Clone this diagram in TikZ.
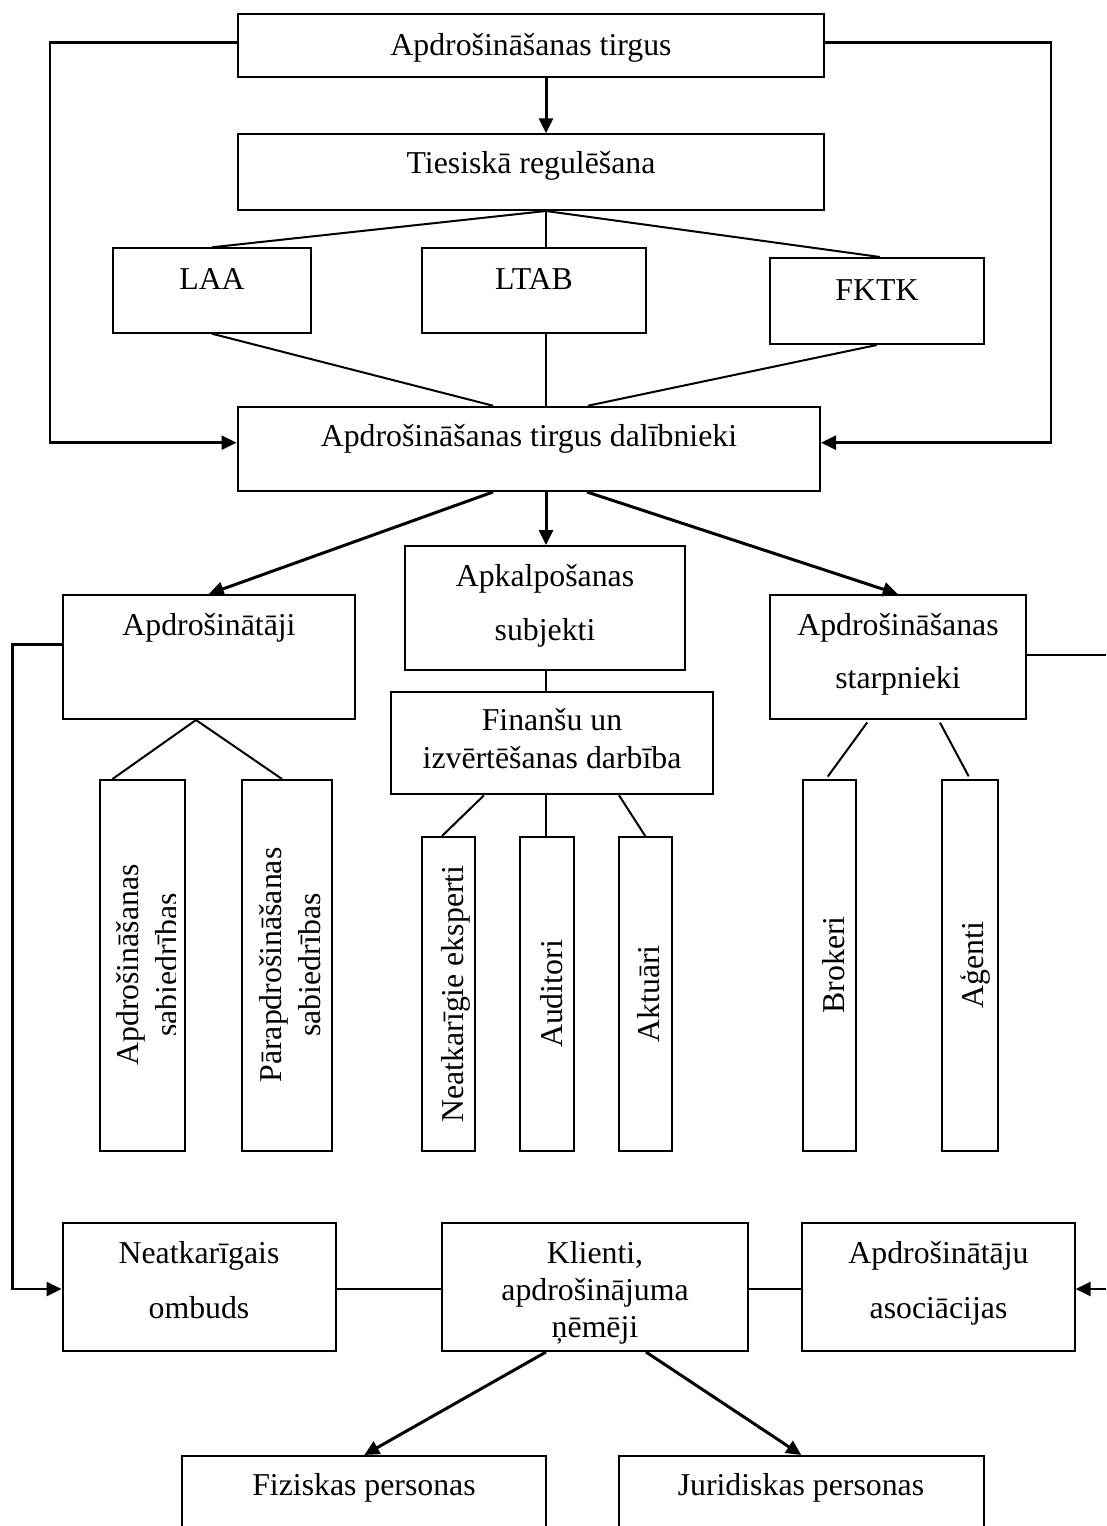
\documentclass[tikz,border=0pt]{standalone}
\usepackage{fontspec}
\setmainfont{Liberation Serif}
\usetikzlibrary{arrows.meta}
\tikzset{
  box/.style={draw, line width=2pt, rectangle, inner sep=0pt},
  txt/.style={font=\fontsize{31.8}{38}\selectfont, inner sep=0pt, anchor=base},
  conn/.style={line width=2pt},
  arr/.style={line width=3pt, -{Triangle[length=15pt,width=14pt]}},
  looparr/.style={line width=2.5pt, -{Triangle[length=15pt,width=14pt]}},
}
\newcommand\mkbox[5]{%
  \pgfmathsetmacro\bxw{#4-#2}%
  \pgfmathsetmacro\bxh{#5-#3}%
  \pgfmathsetmacro\bxx{(#2+#4)/2}%
  \pgfmathsetmacro\bxy{(#3+#5)/2}%
  \node[box, minimum width=\bxw pt, minimum height=\bxh pt] (#1) at (\bxx,\bxy) {};}
\begin{document}
\begin{tikzpicture}[x=1pt,y=-1pt]
\useasboundingbox (0,0) rectangle (1106,1526);
\fill[white] (0,0) rectangle (1106,1526);
\clip (0,0) rectangle (1106,1526);

% guide coordinates
\coordinate (g546) at (546,0);
\coordinate (g493) at (493,0);
\coordinate (g588) at (588,0);
\coordinate (g587) at (587,0);
\coordinate (g196) at (196,0);
\coordinate (g112) at (112.5,0);
\coordinate (g282) at (282,0);
\coordinate (g484) at (484,0);
\coordinate (g442) at (442,0);
\coordinate (g619) at (619,0);
\coordinate (g869) at (869,0);
\coordinate (g826) at (826,0);
\coordinate (g939) at (938.6,0);
\coordinate (g646) at (646,0);
\coordinate (g880) at (880,0);

% boxes
\mkbox{top}{237.5}{14}{824}{77}
\mkbox{tie}{237.5}{134.3}{824}{210}
\mkbox{laa}{112.5}{248.3}{311.4}{332.7}
\mkbox{ltab}{422}{248.3}{646}{332.7}
\mkbox{fktk}{770}{258}{983.5}{344}
\mkbox{dal}{237.5}{406.7}{820}{491}
\mkbox{apd}{62.5}{595}{355}{719}
\mkbox{apk}{405}{546}{684.6}{670}
\mkbox{fin}{391}{691.7}{713}{794.3}
\mkbox{sta}{770}{595}{1025.6}{719}
\mkbox{sab}{99.5}{780}{184.5}{1151}
\mkbox{par}{241.5}{780}{332}{1151}
\mkbox{nek}{422}{837}{475}{1151}
\mkbox{aud}{520}{837}{574}{1151}
\mkbox{akt}{618.5}{837}{672}{1151}
\mkbox{bro}{803}{780}{856}{1151}
\mkbox{age}{942.4}{780}{997.8}{1151}
\mkbox{omb}{62.5}{1223}{335.5}{1351}
\mkbox{kli}{441.8}{1223}{748}{1351}
\mkbox{aso}{802.4}{1223}{1074.6}{1351}
\mkbox{fiz}{182}{1456}{546.4}{1545}
\mkbox{jur}{619}{1456}{983.5}{1545}

% texts
\node[txt] (t-top) at (531,55) {Apdrošināšanas tirgus};
\node[txt] (t-tie) at (531,173) {Tiesiskā regulēšana};
\node[txt] (t-laa) at (212,289) {LAA};
\node[txt] (t-ltab) at (534,289) {LTAB};
\node[txt] (t-fktk) at (877,300) {FKTK};
\node[txt] (t-dal) at (529,446.7) {Apdrošināšanas tirgus dalībnieki};
\node[txt] (t-apd) at (209,635) {Apdrošinātāji};
\node[txt] (t-apk1) at (545,586) {Apkalpošanas};
\node[txt] (t-apk2) at (545,640) {subjekti};
\node[txt] (t-fin1) at (552,730) {Finanšu un};
\node[txt] (t-fin2) at (552,768) {izvērtēšanas darbība};
\node[txt] (t-sta1) at (898,635) {Apdrošināšanas};
\node[txt] (t-sta2) at (898,688) {starpnieki};
\begin{scope}
  \clip (sab.north west) rectangle ([xshift=-10pt]sab.south east);
  \node[txt, rotate=90] (t-sab1) at (138.3,965) {Apdrošināšanas};
  \node[txt, rotate=90] (t-sab2) at (177.3,965) {sabiedrības};
\end{scope}
\node[txt, rotate=90] (t-par1) at (281.7,965) {Pārapdrošināšanas};
\node[txt, rotate=90] (t-par2) at (320.7,965) {sabiedrības};
\node[txt, rotate=90] (t-nek) at (463,994) {Neatkarīgie eksperti};
\node[txt, rotate=90] (t-aud) at (562,994) {Auditori};
\node[txt, rotate=90] (t-akt) at (659.6,994) {Aktuāri};
\node[txt, rotate=90] (t-bro) at (844,965) {Brokeri};
\node[txt, rotate=90] (t-age) at (983.5,965) {Aģenti};
\node[txt] (t-omb1) at (199,1263) {Neatkarīgais};
\node[txt] (t-omb2) at (199,1318) {ombuds};
\node[txt] (t-kli1) at (595,1263) {Klienti,};
\node[txt] (t-kli2) at (595,1300) {apdrošinājuma};
\node[txt] (t-kli3) at (595,1337) {ņēmēji};
\node[txt] (t-aso1) at (938.5,1263) {Apdrošinātāju};
\node[txt] (t-aso2) at (938.5,1318) {asociācijas};
\node[txt] (t-fiz) at (364,1495) {Fiziskas personas};
\node[txt] (t-jur) at (801,1495) {Juridiskas personas};

% connectors
\draw[arr] (top.south -| g546) -- (tie.north -| g546);
\draw[conn] (tie.south -| g546) -- (laa.north);
\draw[conn] (tie.south -| g546) -- (ltab.north -| g546);
\draw[conn] (tie.south -| g546) -- (fktk.north -| g880);
\draw[conn] (laa.south) -- (dal.north -| g493);
\draw[conn] (ltab.south -| g546) -- (dal.north -| g546);
\draw[conn] (fktk.south) -- (dal.north -| g588);

\coordinate (L1) at (50,42.7);
\coordinate (L2) at (50,442.7);
\coordinate (R1) at (1051,42.7);
\coordinate (R2) at (1051,442.7);
\draw[looparr] (top.west |- L1) -- (L1) -- (L2) -- (dal.west |- L2);
\draw[looparr] (top.east |- R1) -- (R1) -- (R2) -- (dal.east |- R2);

\draw[arr] (dal.south -| g493) -- (apd.north);
\draw[arr] (dal.south -| g546) -- (apk.north -| g546);
\draw[arr] (dal.south -| g587) -- (sta.north);

\draw[conn] (apk.south -| g546) -- (fin.north -| g546);
\draw[conn] (apd.south -| g196) -- (sab.north -| g112);
\draw[conn] (apd.south -| g196) -- (par.north -| g282);
\draw[conn] (fin.south -| g484) -- (nek.north -| g442);
\draw[conn] (fin.south -| g546) -- (aud.north -| g546);
\draw[conn] (fin.south -| g619) -- (akt.north);
\draw[conn, shorten <=3pt, shorten >=3pt] (sta.south -| g869) -- (bro.north -| g826);
\draw[conn, shorten <=3pt, shorten >=3pt] (sta.south -| g939) -- (age.north);

\coordinate (A1) at (12.5,644.3);
\coordinate (A2) at (12.5,1289);
\draw[looparr] (apd.west |- A1) -- (A1) -- (A2) -- (omb.west |- A2);
\coordinate (E1) at (1106,655);
\coordinate (E2) at (1106,1289);
\draw[conn] (sta.east |- E1) -- (E1);
\draw[looparr] (E2) -- (aso.east |- E2);
\draw[line width=2.5pt] (omb.east |- A2) -- (kli.west |- A2);
\draw[line width=2.5pt] (kli.east |- A2) -- (aso.west |- A2);

\draw[arr] (kli.south -| g546) -- (fiz.north);
\draw[arr] (kli.south -| g646) -- (jur.north);
\end{tikzpicture}
\end{document}
